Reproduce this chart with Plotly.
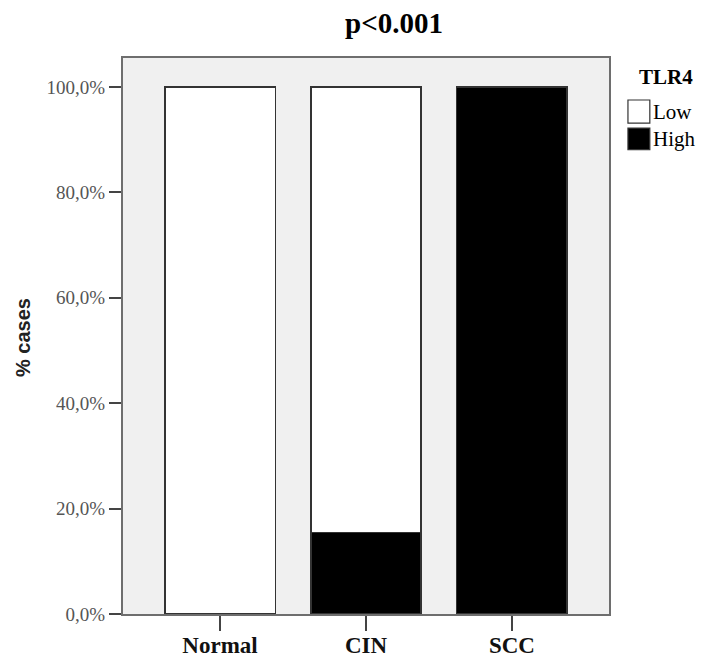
import plotly.graph_objects as go

categories = ["Normal", "CIN", "SCC"]
high_pct = [0.0, 15.4, 100.0]
low_pct = [100.0, 84.6, 0.0]
y_tickvals = [0, 20, 40, 60, 80, 100]
y_ticktext = ["0,0%", "20,0%", "40,0%", "60,0%", "80,0%", "100,0%"]
legend_title = "TLR4"
legend_labels = ["Low", "High"]
legend_colors = ["white", "black"]

serif = "Liberation Serif, Times New Roman, serif"
sans = "Liberation Sans, Arial, sans-serif"

fig = go.Figure()
fig.add_trace(go.Bar(
    x=categories, y=high_pct, name="High", showlegend=False,
    marker=dict(color="black", line=dict(color="#333333", width=1.2)),
    width=0.755,
))
fig.add_trace(go.Bar(
    x=categories, y=low_pct, name="Low", showlegend=False,
    marker=dict(color="white", line=dict(color="#333333", width=1.2)),
    width=0.755,
))

# manual legend (matching large squares of the reference)
box_y = [(0.9245, 0.883), (0.874, 0.835)]
for (y0, y1), lab, col in zip(box_y, legend_labels, legend_colors):
    fig.add_shape(type="rect", xref="paper", yref="paper",
                  x0=1.039, x1=1.084, y0=y1, y1=y0,
                  fillcolor=col, line=dict(color="#333333", width=1.2))
    fig.add_annotation(xref="paper", yref="paper", x=1.087, y=(y0 + y1) / 2,
                       text=lab, showarrow=False, xanchor="left", yanchor="middle",
                       font=dict(family=serif, size=21, color="black"))
fig.add_annotation(xref="paper", yref="paper", x=1.117, y=0.966,
                   text="<b>" + legend_title + "</b>", showarrow=False,
                   xanchor="center", yanchor="middle",
                   font=dict(family=serif, size=21, color="black"))

# y-axis title
fig.add_annotation(xref="paper", yref="paper", x=-0.206, y=0.498,
                   text="<b>% cases</b>", showarrow=False, textangle=-90,
                   xanchor="center", yanchor="middle",
                   font=dict(family=sans, size=20, color="#222222"))

fig.update_layout(
    width=696, height=651,
    barmode="stack",
    paper_bgcolor="white",
    plot_bgcolor="#f0f0f0",
    margin=dict(l=115, r=95, t=50, b=45, autoexpand=False),
    showlegend=False,
    title=dict(text="<b>p<0.001</b>", x=0.5546, xanchor="center", y=0.993, yanchor="top",
               font=dict(family=serif, size=29, color="black")),
    xaxis=dict(
        range=[-0.665, 2.665], automargin=False,
        showline=True, linecolor="#6e6e6e", linewidth=2, mirror=True,
        ticks="outside", ticklen=15, tickcolor="#444444", tickwidth=1.5,
        ticklabelstandoff=-6,
        tickfont=dict(family=serif, size=23, color="#111111"),
        tickvals=[0, 1, 2], ticktext=["<b>" + c + "</b>" for c in categories],
        showgrid=False, zeroline=False,
    ),
    yaxis=dict(
        range=[0, 105.5], automargin=False,
        showline=True, linecolor="#6e6e6e", linewidth=2, mirror=True,
        ticks="outside", ticklen=12, tickcolor="#444444", tickwidth=1.5,
        tickvals=y_tickvals, ticktext=y_ticktext,
        tickfont=dict(family=serif, size=19, color="#555555"),
        showgrid=False, zeroline=False,
    ),
)

fig.write_html("out.html")
